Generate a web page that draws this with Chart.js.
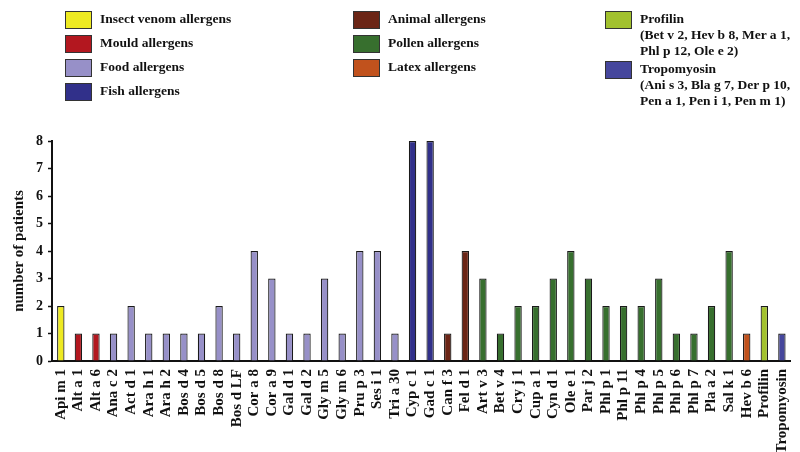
<!DOCTYPE html>
<html>
<head>
<meta charset="utf-8">
<script src="https://cdn.jsdelivr.net/npm/chart.js@4"></script>
<style>
  body { margin: 0; background: #fff; }
  #wrap { position: relative; width: 800px; height: 452px; }
  #legend { position: absolute; left: 0; top: 0; width: 800px; height: 120px;
            font-family: "Liberation Serif", "DejaVu Serif", serif; font-weight: bold; font-size: 13.5px; color: #111; }
  .item { position: absolute; }
  .box { position: absolute; left: 0; top: 0; width: 25px; height: 16px; border: 1px solid #333; }
  .txt { position: absolute; left: 35px; top: 0; line-height: 16px; white-space: nowrap; }
</style>
</head>
<body>
<div id="wrap">
  <canvas id="chart" width="800" height="452"></canvas>
  <div id="legend"></div>
</div>
<script>
const allergens = ['Api m 1', 'Alt a 1', 'Alt a 6', 'Ana c 2', 'Act d 1', 'Ara h 1', 'Ara h 2', 'Bos d 4', 'Bos d 5', 'Bos d 8',
    'Bos d LF', 'Cor a 8', 'Cor a 9', 'Gal d 1', 'Gal d 2', 'Gly m 5', 'Gly m 6', 'Pru p 3', 'Ses i 1', 'Tri a 30',
    'Cyp c 1', 'Gad c 1', 'Can f 3', 'Fel d 1', 'Art v 3', 'Bet v 4', 'Cry j 1', 'Cup a 1', 'Cyn d 1', 'Ole e 1',
    'Par j 2', 'Phl p 1', 'Phl p 11', 'Phl p 4', 'Phl p 5', 'Phl p 6', 'Phl p 7', 'Pla a 2', 'Sal k 1', 'Hev b 6',
    'Profilin', 'Tropomyosin'];
const patients = [2, 1, 1, 1, 2, 1, 1, 1, 1, 2,
    1, 4, 3, 1, 1, 3, 1, 4, 4, 1,
    8, 8, 1, 4, 3, 1, 2, 2, 3, 4,
    3, 2, 2, 2, 3, 1, 1, 2, 4, 1,
    2, 1];
const groupOf = ['insect', 'mould', 'mould', 'food', 'food', 'food', 'food', 'food', 'food', 'food',
    'food', 'food', 'food', 'food', 'food', 'food', 'food', 'food', 'food', 'food',
    'fish', 'fish', 'animal', 'animal', 'pollen', 'pollen', 'pollen', 'pollen', 'pollen', 'pollen',
    'pollen', 'pollen', 'pollen', 'pollen', 'pollen', 'pollen', 'pollen', 'pollen', 'pollen', 'latex',
    'profilin', 'tropo'];
const groupColors = {
    insect: '#eeea22', mould: '#b3171f', food: '#9790c8', fish: '#31308a', animal: '#6b2516',
    pollen: '#376f2e', latex: '#c1521d', profilin: '#a2c12e', tropo: '#46479d'
};
const yTicks = [0, 1, 2, 3, 4, 5, 6, 7, 8];

// legend: [group, text lines, left, top]
const legendItems = [
    ['insect', ['Insect venom allergens'], 65, 11],
    ['mould', ['Mould allergens'], 65, 35],
    ['food', ['Food allergens'], 65, 59],
    ['fish', ['Fish allergens'], 65, 83],
    ['animal', ['Animal allergens'], 353, 11],
    ['pollen', ['Pollen allergens'], 353, 35],
    ['latex', ['Latex allergens'], 353, 59],
    ['profilin', ['Profilin', '(Bet v 2, Hev b 8, Mer a 1,', 'Phl p 12, Ole e 2)'], 605, 11],
    ['tropo', ['Tropomyosin', '(Ani s 3, Bla g 7, Der p 10,', 'Pen a 1, Pen i 1, Pen m 1)'], 605, 61]
];

const legend = document.getElementById('legend');
legendItems.forEach(([g, lines, left, top]) => {
    const el = document.createElement('div');
    el.className = 'item';
    el.style.left = left + 'px';
    el.style.top = top + 'px';
    el.innerHTML = '<div class="box" style="background:' + groupColors[g] + '"></div>' +
        '<div class="txt">' + lines.join('<br>') + '</div>';
    legend.appendChild(el);
});

const serif = '"Liberation Serif", "DejaVu Serif", serif';

new Chart(document.getElementById('chart'), {
    type: 'bar',
    data: {
        labels: allergens,
        datasets: [{
            data: patients,
            backgroundColor: groupOf.map((g) => groupColors[g]),
            borderColor: '#1a1a1a',
            borderWidth: 1.2,
            borderSkipped: 'bottom',
            barPercentage: 0.42,
            categoryPercentage: 1,
        }],
    },
    options: {
        responsive: false,
        animation: false,
        layout: { padding: { top: 141, right: 9, left: 10, bottom: 0 } },
        plugins: { legend: { display: false }, tooltip: { enabled: false } },
        scales: {
            x: {
                grid: { display: false },
                border: { display: true, color: '#111', width: 2 },
                ticks: {
                    autoSkip: false, maxRotation: 90, minRotation: 90, padding: 0,
                    color: '#111', font: { family: serif, size: 15, weight: 'bold' },
                },
                afterFit: (s) => { s.height = 91; },
            },
            y: {
                min: 0, max: 8,
                afterBuildTicks: (s) => { s.ticks = yTicks.map((v) => ({ value: v })); },
                grid: { drawOnChartArea: false, tickLength: 4, color: '#111', tickWidth: 1.5 },
                border: { display: true, color: '#111', width: 2 },
                ticks: { padding: 5, color: '#111', font: { family: serif, size: 14, weight: 'bold' } },
                title: {
                    display: true, text: 'number of patients', color: '#111', padding: 0,
                    font: { family: serif, size: 15, weight: 'bold' },
                },
                afterFit: (s) => { s.width = 42; },
            },
        },
    },
});
</script>
</body>
</html>
